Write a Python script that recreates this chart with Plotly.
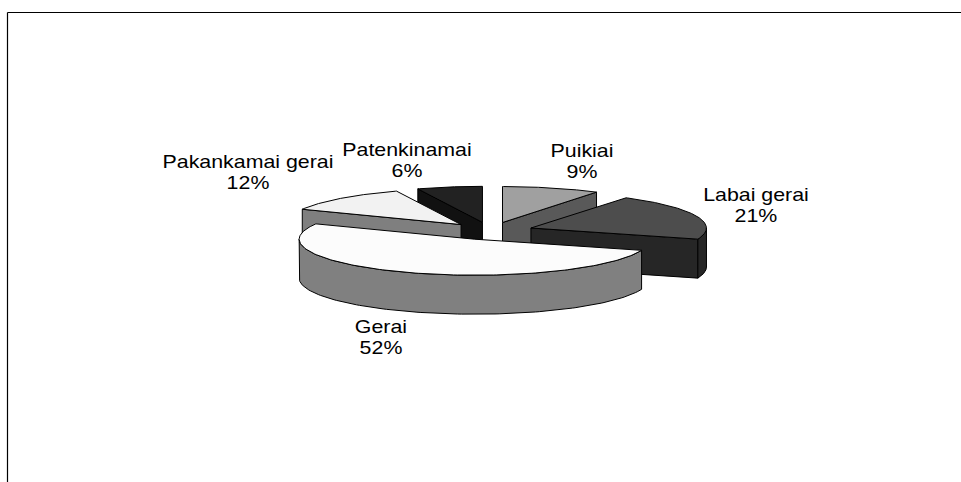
import numpy as np
import plotly.graph_objects as go

# Data
categories = ["Puikiai", "Labai gerai", "Gerai", "Pakankamai gerai", "Patenkinamai"]
values = [9, 21, 52, 12, 6]

# Styles
top_colors = ["#a0a0a0", "#4d4d4d", "#fcfcfc", "#f2f2f2", "#222222"]
side_colors = ["#595959", "#262626", "#808080", "#7f7f7f", "#111111"]
label_x = [582, 756, 381, 248, 407]
label_y = [164, 208, 340, 175, 163]
draw_order = [4, 3, 0, 1, 2]
# faces cut along the start (a) or end (b) of each slice that look towards the viewer
visible_cut = ["b", "b", None, "a", "a"]

# Projection of the tilted, exploded pie, in canvas units
CX, CY, RX, RY, EXPLODE, DEPTH = 490.5, 231, 175.5, 36, 43, 39
W, H = 961, 482
TEXT_STRETCH = 1.187
LINE_EM = 1.2

total = sum(values)
edges = np.cumsum([0] + values) / total * 2 * np.pi


def point(cx, cy, t):
    return cx + RX * np.sin(t), cy - RY * np.cos(t)


fig = go.Figure()


def poly(xs, ys, color, name):
    fig.add_trace(go.Scatter(
        x=list(xs), y=list(ys), mode="lines", fill="toself", fillcolor=color,
        line=dict(color="#000000", width=1), name=name, hoverinfo="name",
        showlegend=False,
    ))


for i in draw_order:
    a, b = edges[i], edges[i + 1]
    mid = (a + b) / 2
    cx = CX + EXPLODE * np.sin(mid)
    cy = CY - EXPLODE * RY / RX * np.cos(mid)
    name = categories[i]

    # Cut face that looks towards the viewer
    if visible_cut[i]:
        px, py = point(cx, cy, a if visible_cut[i] == "a" else b)
        poly([cx, px, px, cx, cx], [cy, py, py + DEPTH, cy + DEPTH, cy],
             side_colors[i], name)

    # Outer rim on the front half of the ellipse
    lo, hi = max(a, np.pi / 2), min(b, 3 * np.pi / 2)
    if hi > lo:
        t = np.linspace(lo, hi, 120)
        rx, ry = point(cx, cy, t)
        poly(np.r_[rx, rx[::-1], rx[0]],
             np.r_[ry, ry[::-1] + DEPTH, ry[0]], side_colors[i], name)

    # Top face
    t = np.linspace(a, b, 160)
    tx, ty = point(cx, cy, t)
    poly(np.r_[cx, tx, cx], np.r_[cy, ty, cy], top_colors[i], name)

fig.add_trace(go.Scatter(
    x=label_x, y=label_y, mode="text",
    text=[f"{c}<br>{v}%" for c, v in zip(categories, values)],
    textposition="middle center",
    textfont=dict(family="Liberation Sans, Arial, sans-serif", size=18, color="#000000"),
    hoverinfo="skip", showlegend=False,
))

# Chart frame, cropped by the picture on the right and at the bottom
frame = dict(color="#000000", width=1.2)
fig.add_shape(type="line", x0=7.5, x1=W, y0=12.5, y1=12.5, line=frame)
fig.add_shape(type="line", x0=7.5, x1=7.5, y0=12.5, y1=H, line=frame)

fig.update_layout(
    width=W, height=H, margin=dict(l=0, r=0, t=0, b=0),
    paper_bgcolor="#ffffff", plot_bgcolor="#ffffff", showlegend=False,
    xaxis=dict(range=[0, W], visible=False, fixedrange=True),
    yaxis=dict(range=[H, 0], visible=False, fixedrange=True),
)

# The reference's labels are wider and more tightly leaded than the font's defaults
stretch_js = (
    "document.body.style.margin='0';document.body.style.overflow='hidden';"
    "document.querySelectorAll('.textpoint text').forEach(function(t){"
    "var x=parseFloat(t.getAttribute('x'));"
    f"t.setAttribute('transform','translate('+x+',0) scale({TEXT_STRETCH},1) translate('+(-x)+',0)');"
    "t.querySelectorAll('tspan.line').forEach(function(s,i){"
    f"if(i>0){{s.setAttribute('dy','{LINE_EM}em');}}"
    "});"
    "});"
)
fig.write_html("out.html", config={"displayModeBar": False}, post_script=stretch_js)
